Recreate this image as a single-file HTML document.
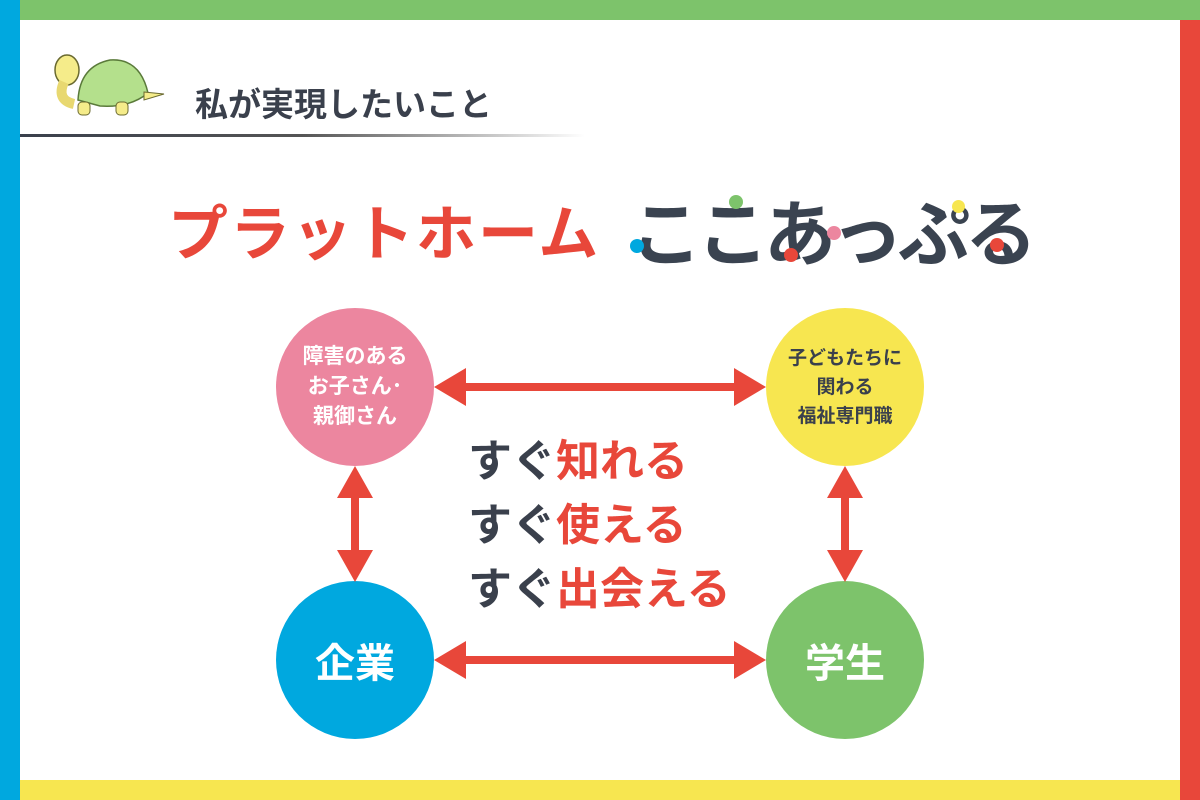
<!DOCTYPE html>
<html><head><meta charset="utf-8"><style>
body{margin:0;width:1200px;height:800px;position:relative;background:#fff;overflow:hidden;font-family:"Liberation Sans","Noto Sans CJK JP",sans-serif}
.a{position:absolute}
.c{position:absolute;width:158px;height:158px;border-radius:50%;display:flex;align-items:center;justify-content:center;text-align:center;font-weight:bold}
</style></head><body>
<div class="a" style="left:0;top:0;width:1200px;height:20px;background:#7dc36b"></div>
<div class="a" style="left:0;top:0;width:20px;height:800px;background:#00a8df"></div>
<div class="a" style="left:1180px;top:20px;width:20px;height:780px;background:#e8473a"></div>
<div class="a" style="left:20px;top:780px;width:1160px;height:20px;background:#f7e650"></div>
<!-- turtle -->
<svg class="a" style="left:40px;top:38px" width="130" height="95">
<path d="M38 62 Q40 28 70 22 Q100 20 108 55 Q90 70 60 68Z" fill="#b4e08c" stroke="#5a7a3a" stroke-width="1.5"/>
<ellipse cx="27" cy="32" rx="12" ry="15" fill="#f5ec8a" stroke="#6a6a30" stroke-width="1.5"/>
<path d="M24 44 Q16 62 34 66" stroke="#e8d870" fill="none" stroke-width="10"/>
<rect x="38" y="64" width="12" height="13" rx="4" fill="#f5ec8a" stroke="#6a6a30"/>
<rect x="76" y="64" width="12" height="13" rx="4" fill="#f5ec8a" stroke="#6a6a30"/>
<path d="M104 54 L124 56 L104 62Z" fill="#f5ec8a" stroke="#6a6a30"/>
</svg>
<div class="a" style="left:195px;top:78px;font-size:33px;font-weight:bold;color:#3a404c">私が実現したいこと</div>
<div class="a" style="left:20px;top:134px;width:565px;height:3px;background:linear-gradient(90deg,#3a404c 0%,#555 50%,#fff 100%)"></div>
<div class="a" style="left:168px;top:186px;font-size:60px;font-weight:bold;color:#e8473a;letter-spacing:2px">プラットホーム</div>
<div class="a" style="left:630px;top:176px;font-size:72px;font-weight:bold;color:#3a4350;letter-spacing:-5px">ここあっぷる</div>
<div class="a" style="left:630px;top:239px;width:14px;height:14px;border-radius:50%;background:#00a8df"></div>
<div class="a" style="left:729px;top:195px;width:14px;height:14px;border-radius:50%;background:#7dc36b"></div>
<div class="a" style="left:784px;top:248px;width:14px;height:14px;border-radius:50%;background:#e8473a"></div>
<div class="a" style="left:827px;top:226px;width:14px;height:14px;border-radius:50%;background:#ec869f"></div>
<div class="a" style="left:952px;top:200px;width:13px;height:13px;border-radius:50%;background:#f7e650"></div>
<div class="a" style="left:990px;top:238px;width:14px;height:14px;border-radius:50%;background:#e8473a"></div>

<div class="c" style="left:276px;top:308px;background:#ec869f;color:#fff;font-size:21px;line-height:30px">障害のある<br>お子さん･<br>親御さん</div>
<div class="c" style="left:766px;top:308px;background:#f7e650;color:#3a404c;font-size:19px;line-height:29px">子どもたちに<br>関わる<br>福祉専門職</div>
<div class="c" style="left:276px;top:581px;background:#00a8df;color:#fff;font-size:40px">企業</div>
<div class="c" style="left:766px;top:581px;background:#7dc36b;color:#fff;font-size:40px">学生</div>

<svg class="a" style="left:0;top:0" width="1200" height="800">
<g fill="#e8473a">
<rect x="460" y="383" width="280" height="8"/>
<path d="M434 387 L466 368 L466 406Z M766 387 L734 368 L734 406Z"/>
<rect x="460" y="656" width="280" height="8"/>
<path d="M434 660 L466 641 L466 679Z M766 660 L734 641 L734 679Z"/>
<rect x="351" y="490" width="8" height="70"/>
<path d="M355 466 L337 498 L373 498Z M355 582 L337 550 L373 550Z"/>
<rect x="841" y="490" width="8" height="70"/>
<path d="M845 466 L827 498 L863 498Z M845 582 L827 550 L863 550Z"/>
</g></svg>

<div class="a" style="left:468px;top:430px;font-size:44px;font-weight:bold;line-height:64px;color:#3a404c">
すぐ<span style="color:#e8473a">知れる</span><br>すぐ<span style="color:#e8473a">使える</span><br>すぐ<span style="color:#e8473a">出会える</span></div>
</body></html>
